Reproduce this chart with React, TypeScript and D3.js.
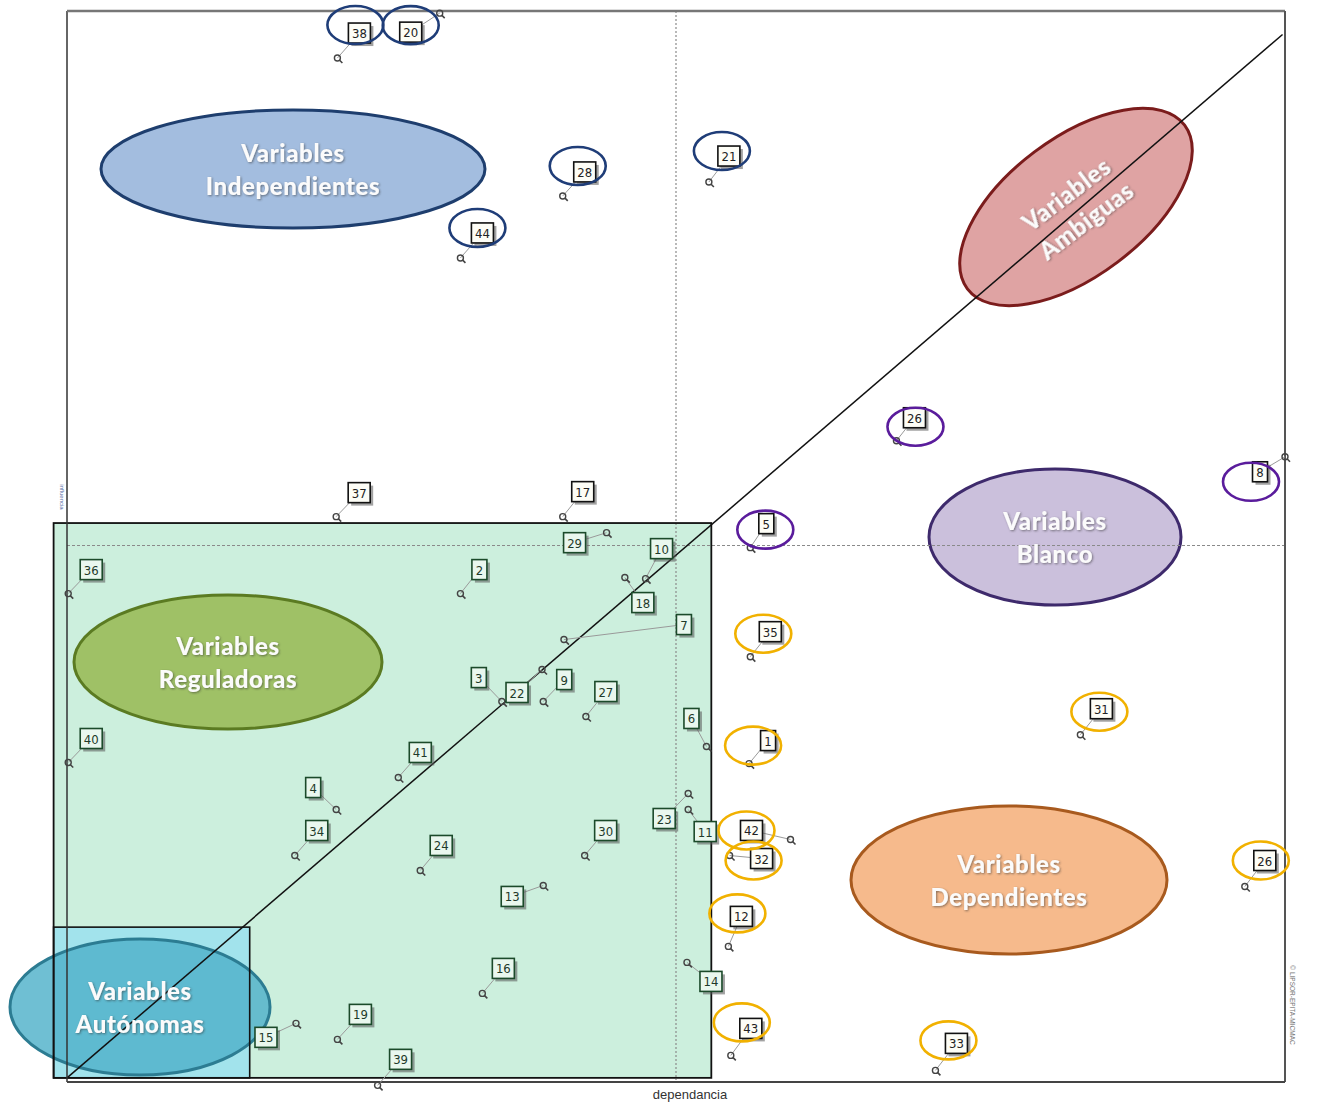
import React from "react";
import * as d3 from "d3";

const W = 1322;
const H = 1104;

// ---- data (dependence = x, influence = y, 0..100 scale) ----
const pointIds = ["38","20","28","44","21","37","17","36","2","29","10","18","7","3","22","9","27","6","41","40","4","34","24","30","23","11","13","16","14","19","15","39","35","31","1","42","32","12","43","33","26","26","5","8"];
const dependence = [22.2,30.6,40.7,32.3,52.7,22.1,40.7,0.1,32.3,44.3,47.5,45.8,40.8,35.7,39.0,39.1,42.6,52.5,27.2,0.1,22.1,18.7,29.0,42.5,51.0,51.0,39.1,34.1,50.9,22.2,18.8,25.5,56.1,83.2,56.0,59.4,54.4,54.3,54.5,71.3,96.7,68.1,56.1,100];
const influence = [95.6,99.8,82.7,76.9,84.0,52.7,52.7,45.5,45.5,51.2,46.9,47.0,41.2,35.4,38.4,35.4,34.0,31.2,28.3,29.7,25.3,21.0,19.6,21.0,26.8,25.3,18.2,8.1,11.0,3.8,5.3,-0.5,39.6,32.3,29.6,22.5,21.0,12.5,2.3,0.9,18.1,59.8,49.8,58.3];
// highlight ring group per point: "" none, "ind" navy, "blanco" purple, "dep" yellow
const ringGroup = ["ind","ind","ind","ind","ind","","","","","","","","","","","","","","","","","","","","","","","","","","","","dep","dep","dep","dep","dep","dep","dep","dep","dep","blanco","blanco","blanco"];

const meanDependence = 50;
const meanInfluence = 50;
const diagonalStart = [0, 0.2];
const diagonalEnd = [99.8, 97.8];
const regulatorZone = { x0: -1.1, x1: 52.9, y0: 0.2, y1: 52.1 };
const autonomousZone = { x0: -1.1, x1: 15.0, y0: 0.2, y1: 14.3 };

const zoneNames = [
  ["Variables", "Independientes"],
  ["Variables", "Ambiguas"],
  ["Variables", "Blanco"],
  ["Variables", "Reguladoras"],
  ["Variables", "Dependientes"],
  ["Variables", "Autónomas"],
];
const axisTitle = "dependancia";
const yAxisTitle = "influencia";
const creditText = "© LIPSOR-EPITA-MICMAC";

// ---- layout (pixels) ----
const M = { left: 67, right: 1285, top: 11, bottom: 1080 };

// label offset from marker (dx, dy)
const labelOffsets: [number, number][] = [
  [22,-25],[-29,19],[22,-24],[22,-25],[20,-26],[23,-24],[20,-25],[23,-24],[19,-24],[-32,10],
  [16,-30],[18,25],[120,-15],[-23,-24],[-25,23],[21,-22],[20,-25],[-15,-28],[22,-25],[23,-24],
  [-23,-22],[22,-25],[21,-25],[21,-25],[-24,25],[17,22],[-31,11],[21,-25],[24,19],[23,-25],
  [-30,14],[23,-26],[20,-25],[21,-26],[19,-23],[-39,-9],[32,3],[13,-30],[20,-27],[21,-27],
  [20,-26],[18,-23],[16,-24],[-25,15],
];
// ring offset from label centre
const ringOffsets: Record<number, [number, number]> = {
  0: [-4,-8], 1: [0,-7], 2: [-7,-6], 3: [-5,-5], 4: [-7,-5],
  32: [-7,2], 33: [-2,3], 34: [-15,5], 35: [-5,0], 36: [-8,2], 37: [-4,-3], 38: [-9,-6], 39: [-8,-3], 40: [-4,0],
  41: [1,9], 42: [-1,6], 43: [-9,10],
};
const ringColors: Record<string, string> = { ind: "#1f3d78", blanco: "#5a1c9c", dep: "#f1b100" };

const zoneLayout = [
  { cx: 293, cy: 169, rx: 192, ry: 59, rot: 0, fill: "#a3bddf", stroke: "#1e3e6e", op: 1 },
  { cx: 1076, cy: 207, rx: 136, ry: 69, rot: -37, fill: "#dfa3a3", stroke: "#7b1c1c", op: 1 },
  { cx: 1055, cy: 537, rx: 126, ry: 68, rot: 0, fill: "#cbc0dc", stroke: "#3e2a6c", op: 1 },
  { cx: 228, cy: 662, rx: 154, ry: 67, rot: 0, fill: "#9fc166", stroke: "#5b7b22", op: 1 },
  { cx: 1009, cy: 880, rx: 158, ry: 74, rot: 0, fill: "#f6ba8c", stroke: "#a85a1e", op: 1 },
  { cx: 140, cy: 1007, rx: 130, ry: 68, rot: 0, fill: "#4fb1c9", stroke: "#2c7c92", op: 0.82 },
];

export default function App() {
  const x = d3.scaleLinear().domain([0, 100]).range([M.left, M.right]);
  const y = d3.scaleLinear().domain([0, 100]).range([M.bottom, M.top]);

  const line = d3.line<number[]>().x((d) => x(d[0])).y((d) => y(d[1]));

  const gx0 = x(regulatorZone.x0), gx1 = x(regulatorZone.x1);
  const gy0 = y(regulatorZone.y1), gy1 = y(regulatorZone.y0);
  const ax0 = x(autonomousZone.x0), ax1 = x(autonomousZone.x1);
  const ay0 = y(autonomousZone.y1), ay1 = y(autonomousZone.y0);

  const pts = pointIds.map((id, i) => {
    const px = x(dependence[i]);
    const py = y(influence[i]);
    const [dx, dy] = labelOffsets[i];
    const lx = px + dx, ly = py + dy;
    const inGreen = lx > gx0 && lx < gx1 && ly > gy0 && ly < gy1;
    return { id, i, px, py, lx, ly, inGreen, ring: ringGroup[i] };
  });

  const font = "Lato, 'Open Sans', sans-serif";

  return (
    <svg width={W} height={H} style={{ position: "absolute", left: 0, top: 0, display: "block", background: "#fff" }}>
      <defs>
        <filter id="tsh" x="-20%" y="-20%" width="140%" height="140%">
          <feDropShadow dx="1" dy="1" stdDeviation="0.8" floodColor="#333" floodOpacity="0.55" />
        </filter>
      </defs>
      <rect x={0} y={0} width={W} height={H} fill="#fff" />
      {/* zones */}
      <rect x={gx0} y={gy0} width={gx1 - gx0} height={gy1 - gy0} fill="#ccefdd" />
      <rect x={ax0} y={ay0} width={ax1 - ax0} height={ay1 - ay0} fill="#a2e3ec" />

      {zoneLayout.map((z, k) => (
        <ellipse key={"z" + k} cx={z.cx} cy={z.cy} rx={z.rx} ry={z.ry}
          transform={`rotate(${z.rot} ${z.cx} ${z.cy})`}
          fill={z.fill} fillOpacity={z.op} stroke={z.stroke} strokeWidth={3} />
      ))}

      {/* mean lines */}
      <line x1={x(meanDependence)} x2={x(meanDependence)} y1={M.top} y2={M.bottom} stroke="#8a8a8a" strokeWidth={1.2} strokeDasharray="2,2" />
      <line x1={M.left} x2={M.right} y1={y(meanInfluence)} y2={y(meanInfluence)} stroke="#8a8a8a" strokeWidth={1.2} strokeDasharray="3,2" />

      {/* zone outlines */}
      <rect x={gx0} y={gy0} width={gx1 - gx0} height={gy1 - gy0} fill="none" stroke="#111" strokeWidth={1.8} />
      <rect x={ax0} y={ay0} width={ax1 - ax0} height={ay1 - ay0} fill="none" stroke="#111" strokeWidth={1.6} />

      {/* diagonal */}
      <path d={line([diagonalStart, diagonalEnd]) || ""} stroke="#111" strokeWidth={1.5} fill="none" />

      {/* frame */}
      <line x1={M.left} x2={M.left} y1={M.top} y2={M.bottom + 2} stroke="#333" strokeWidth={1.5} />
      <line x1={M.left} x2={M.right} y1={M.top} y2={M.top} stroke="#777" strokeWidth={2.5} />
      <line x1={M.right} x2={M.right} y1={M.top} y2={M.bottom + 2} stroke="#555" strokeWidth={2} />
      <line x1={M.left} x2={M.right} y1={M.bottom + 2} y2={M.bottom + 2} stroke="#444" strokeWidth={2} />

      {/* zone texts */}
      {zoneLayout.map((z, k) => (
        <g key={"t" + k} transform={`translate(${z.cx},${z.cy}) rotate(${z.rot})`} filter="url(#tsh)">
          {zoneNames[k].map((s, j) => (
            <text key={j} x={0} y={(j === 0 ? -16 : 17) + 9} textAnchor="middle"
              fontFamily={font} fontWeight={900} fontSize={24} letterSpacing={0.6} fill="#fbfbfb">{s}</text>
          ))}
        </g>
      ))}

      {/* points */}
      {pts.map((p) => {
        const w = p.id.length > 1 ? 22 : 15;
        const h = 20;
        const border = p.inGreen ? "#1b4a2a" : "#111";
        const bg = p.inGreen ? "#e9f7ee" : "#fdfdf6";
        const tc = p.inGreen ? "#1f3a2a" : "#222";
        return (
          <g key={"p" + p.i}>
            <line x1={p.px} y1={p.py} x2={p.lx} y2={p.ly} stroke="#9a9a9a" strokeWidth={1} />
            <circle cx={p.px} cy={p.py} r={3} fill="none" stroke="#444" strokeWidth={1.4} />
            <line x1={p.px + 2} y1={p.py + 2} x2={p.px + 5} y2={p.py + 5} stroke="#444" strokeWidth={1.6} />
            <rect x={p.lx - w / 2 + 3} y={p.ly - h / 2 + 3} width={w} height={h} fill="#555" opacity={0.55} />
            <rect x={p.lx - w / 2} y={p.ly - h / 2} width={w} height={h} fill={bg} stroke={border} strokeWidth={1.6} />
            <text x={p.lx} y={p.ly + 5} textAnchor="middle" fontFamily="'DejaVu Sans Condensed', 'Liberation Sans Narrow', sans-serif" fontSize={13} fill={tc}>{p.id}</text>
          </g>
        );
      })}

      {/* highlight rings */}
      {pts.filter((p) => p.ring).map((p) => {
        const o = ringOffsets[p.i] || [-5, 0];
        return (
          <ellipse key={"r" + p.i} cx={p.lx + o[0]} cy={p.ly + o[1]} rx={28} ry={19}
            fill="none" stroke={ringColors[p.ring]} strokeWidth={2.6} />
        );
      })}

      {/* axis titles */}
      <text x={690} y={1099} textAnchor="middle" fontFamily="'Liberation Sans', Arial, sans-serif" fontSize={13} fill="#333">{axisTitle}</text>
      <text transform="translate(60,497) rotate(90)" textAnchor="middle" fontFamily="'Liberation Sans', sans-serif" fontSize={6} fill="#5a6fa8">{yAxisTitle}</text>
      <text transform="translate(1290,1005) rotate(90)" textAnchor="middle" fontFamily="'Liberation Sans', sans-serif" fontSize={6.5} fill="#777">{creditText}</text>
    </svg>
  );
}
